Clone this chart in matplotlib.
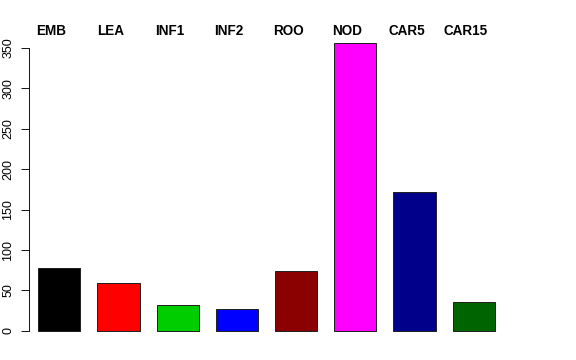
import matplotlib.pyplot as plt

# counts per tissue
tissues = ["EMB", "LEA", "INF1", "INF2", "ROO", "NOD", "CAR5", "CAR15"]
counts = [77.5, 59.4, 31.8, 27.6, 74.6, 356, 171.5, 35.5]
colors = ["#000000", "#FF0000", "#00CD00", "#0000FF", "#8B0000",
          "#FF00FF", "#00008B", "#006400"]
yticks = [0, 50, 100, 150, 200, 250, 300, 350]

plt.rcParams['font.family'] = ['Liberation Sans', 'DejaVu Sans']

fig = plt.figure(figsize=(8, 5), dpi=72)
ax = fig.add_axes([29.3/576, 17.5/360, (510-29.3)/576, (342.5-31)/360])

xs = list(range(len(tissues)))
ax.bar(xs, counts, width=0.71, color=colors, edgecolor="#222222", linewidth=1)

ax.set_xlim(-0.507, 7.613)
ax.set_ylim(-14.3, 370.8)

for s in ["top", "right", "bottom"]:
    ax.spines[s].set_visible(False)
ax.spines["left"].set_bounds(0, 350)
ax.spines["left"].set_linewidth(0.9)
ax.set_xticks([])
ax.set_yticks(yticks)
ax.set_yticklabels([str(t) for t in yticks], rotation=90, va="center", fontsize=12.5)
ax.tick_params(axis="y", length=8, width=0.9, pad=7)

for x, name in zip(xs, tissues):
    ax.annotate(name, xy=(x, 1), xycoords=("data", "axes fraction"),
                xytext=(-8, 0), textcoords="offset points",
                ha="center", va="center", fontsize=13.5, fontweight="bold")

fig.savefig("out.png", dpi=72)
